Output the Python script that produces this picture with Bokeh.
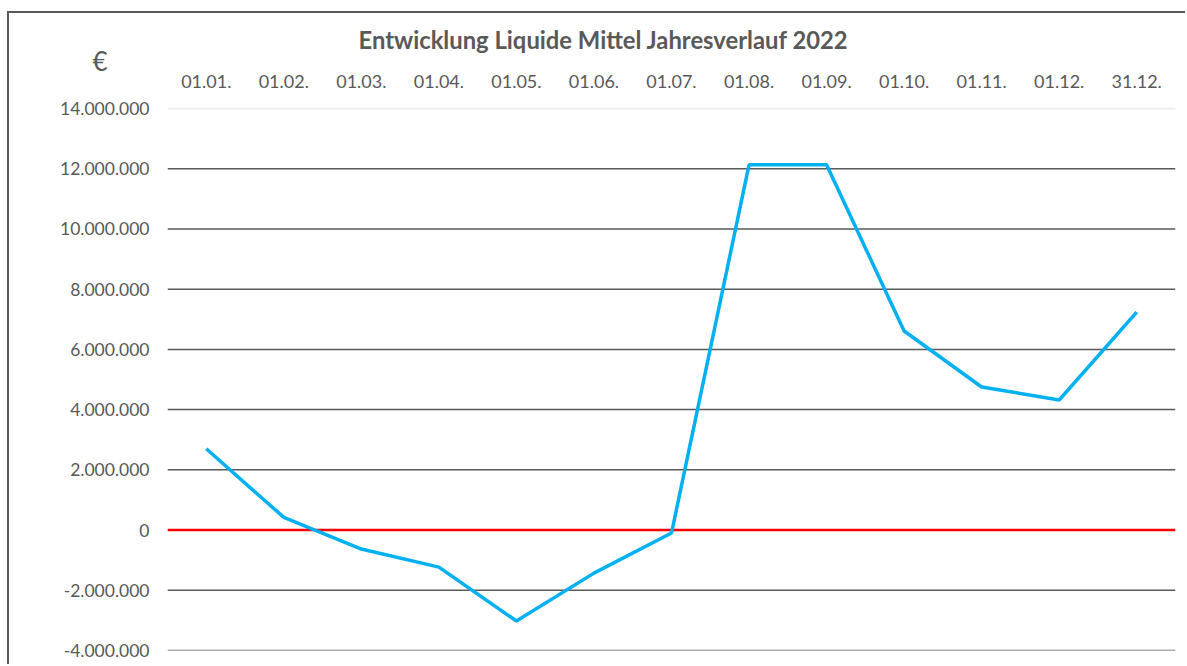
from bokeh.plotting import figure
from bokeh.models import FixedTicker, Span, Title
from bokeh.embed import file_html
from bokeh.resources import INLINE

dates = ["01.01.", "01.02.", "01.03.", "01.04.", "01.05.", "01.06.", "01.07.",
         "01.08.", "01.09.", "01.10.", "01.11.", "01.12.", "31.12."]
liquide_mittel = [2700000, 420000, -630000, -1230000, -3020000, -1430000, -100000,
                  12130000, 12130000, 6610000, 4750000, 4320000, 7240000]
y_ticks = [-4000000, -2000000, 0, 2000000, 4000000, 6000000, 8000000,
           10000000, 12000000, 14000000]
y_tick_labels = ["-4.000.000", "-2.000.000", "0", "2.000.000", "4.000.000",
                 "6.000.000", "8.000.000", "10.000.000", "12.000.000", "14.000.000"]

FONT = "Lato"
TXT = "#595959"

p = figure(x_range=dates, y_range=(y_ticks[0], y_ticks[-1]),
           width=1178, height=653, output_backend="svg", toolbar_location=None,
           x_axis_location="above", title=None,
           min_border_left=158, min_border_right=12, min_border_top=95,
           min_border_bottom=16)
p.styles = {"margin-left": "9px", "margin-top": "13px",
            "box-shadow": "-2px -2px 0 0 #595959"}
p.outline_line_color = None
p.background_fill_color = "white"
p.border_fill_color = "white"

p.xgrid.visible = False
p.ygrid.visible = False

xa = p.xaxis[0]
xa.axis_line_color = None
xa.major_tick_line_color = None
xa.minor_tick_line_color = None
xa.major_label_text_font = FONT
xa.major_label_text_font_size = "18px"
xa.major_label_text_color = TXT
xa.major_label_standoff = 15

euro = Title(text="€", align="left", offset=-75, text_font=FONT,
             text_font_size="26px", text_font_style="normal", text_color=TXT,
             standoff=-11)
p.add_layout(euro, "above")

t = Title(text="Entwicklung Liquide Mittel Jahresverlauf 2022", align="left",
          offset=191, text_font=FONT, text_font_size="23.8px",
          text_font_style="bold", text_color=TXT, standoff=-10)
p.add_layout(t, "above")

ya = p.yaxis[0]
ya.ticker = FixedTicker(ticks=y_ticks)
ya.major_label_overrides = {v: s for v, s in zip(y_ticks, y_tick_labels)}
ya.axis_line_color = None
ya.major_tick_line_color = None
ya.minor_tick_line_color = None
ya.major_label_text_font = FONT
ya.major_label_text_font_size = "17.5px"
ya.major_label_text_color = TXT
ya.major_label_standoff = 12

for v in y_ticks:
    if v == 0:
        color, w = "#FF0000", 2.5
    elif v == y_ticks[-1]:
        color, w = "#D9D9D9", 1.5
    else:
        color, w = "#595959", 1.5
    p.add_layout(Span(location=v, dimension="width", line_color=color,
                      line_width=w, level="underlay"))

p.line(x=dates, y=liquide_mittel, line_color="#00B0F0", line_width=3.5)

open("out.html", "w").write(file_html(p, INLINE))
